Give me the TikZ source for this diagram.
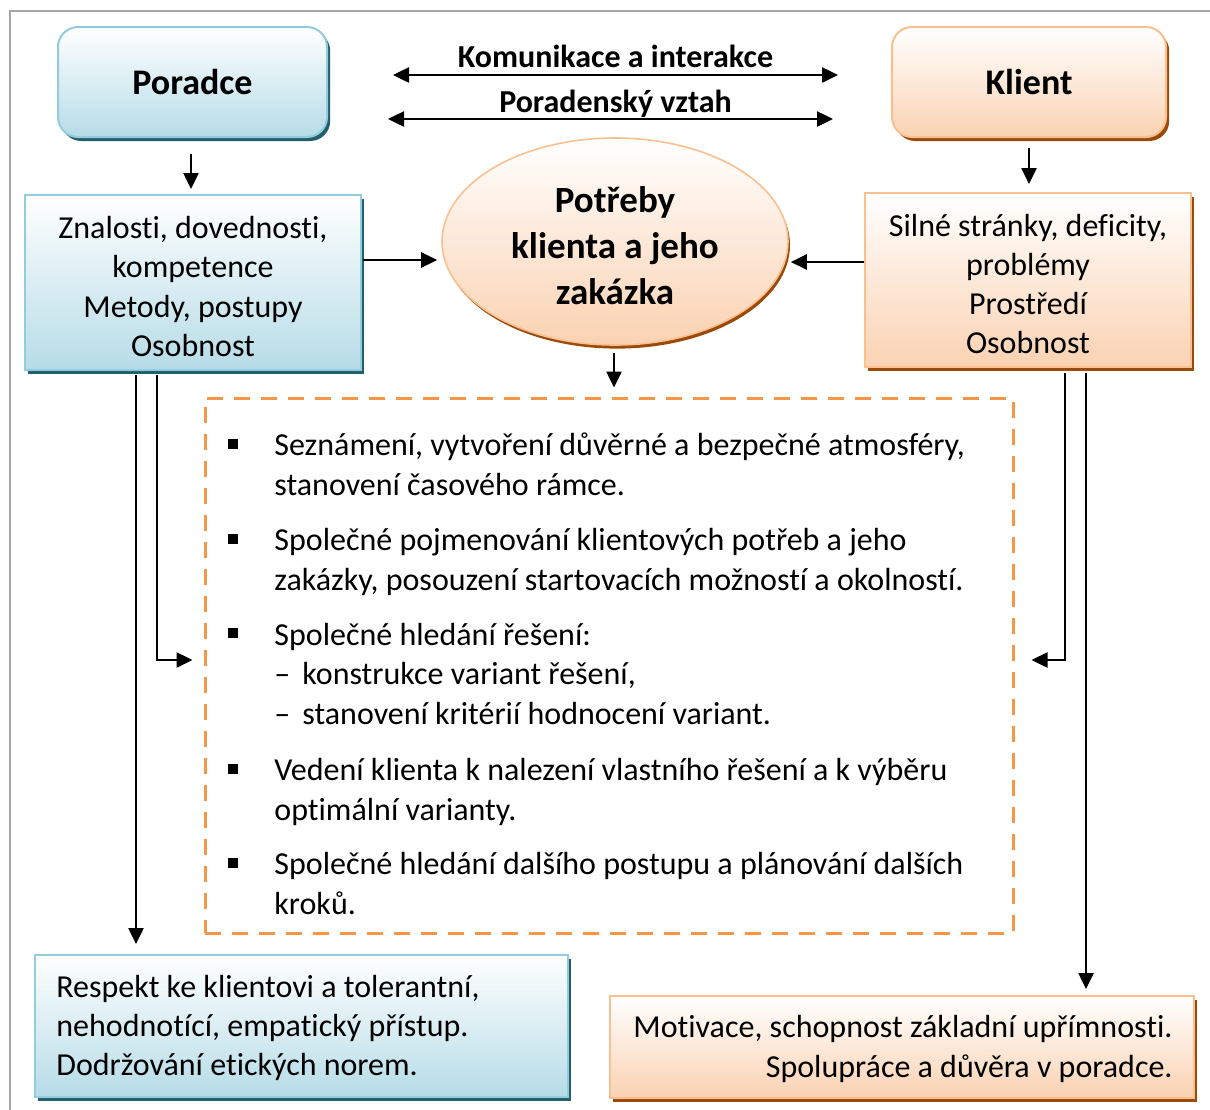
\documentclass[tikz,border=0pt]{standalone}
\usepackage{fontspec}
\setmainfont{Carlito}[Ligatures=NoCommon]
\usetikzlibrary{arrows.meta,shapes.geometric,shadows,calc}

\definecolor{blueedge}{HTML}{93CDDD}
\definecolor{bluefill}{HTML}{B6DCE7}
\definecolor{blueshadow}{HTML}{245F6E}
\definecolor{orangeedge}{HTML}{FAC090}
\definecolor{orangefill}{HTML}{FAD2B2}
\definecolor{orangeshadow}{HTML}{9A4A0A}
\definecolor{dashorange}{HTML}{F79646}
\definecolor{framegray}{HTML}{A6A6A6}

\newcommand\bodyfnt{\fontsize{16}{19.6}\selectfont}
\newcommand\titlefnt{\fontsize{18}{22}\selectfont\bfseries}
\newcommand\ellfnt{\fontsize{18.5}{23}\selectfont\bfseries}
\newcommand\labfnt{\fontsize{16}{19.6}\selectfont\bfseries}

\tikzset{
  tip/.tip={Triangle[length=8pt,width=7.5pt]},
  arr/.style={-tip, line width=1.25pt},
  darr/.style={tip-tip, line width=1.25pt},
  blueshade/.style={draw=blueedge, line width=1pt, top color=white, bottom color=bluefill,
    drop shadow={shadow xshift=1.6pt, shadow yshift=-2pt, fill=blueshadow, opacity=1}},
  orangeshade/.style={draw=orangeedge, line width=1pt, top color=white, bottom color=orangefill,
    drop shadow={shadow xshift=1.6pt, shadow yshift=-2pt, fill=orangeshadow, opacity=1}},
  titlebox/.style={rounded corners=10pt, minimum width=#1, minimum height=55pt, inner sep=0pt, font=\titlefnt},
  plainbox/.style={rectangle, inner sep=0pt},
  boxtext/.style={inner sep=0pt, font=\bodyfnt},
  bullet/.style={anchor=base west, inner sep=0pt, align=left, font=\bodyfnt},
  sq/.style={fill=black, minimum size=5pt, inner sep=0pt},
}

\begin{document}
\begin{tikzpicture}[x=0.5pt,y=-0.5pt]
\useasboundingbox (0,0) rectangle (1210,1109);
\fill[white] (0,0) rectangle (1210,1109);

% outer frame
\draw[framegray, line width=1pt] (10,1130) -- (10,11) -- (1230,11);

% top row
\node[blueshade, titlebox=134.5pt] (por) at (192.5,82) {Poradce};
\node[orangeshade, titlebox=137pt] (kli) at (1029,82) {Klient};

% relation arrows with their labels
\coordinate (k1) at (393,75);  \coordinate (k2) at (838,75);
\coordinate (v1) at (388,119); \coordinate (v2) at (833,119);
\draw[darr] (k1) -- (k2);
\draw[darr] (v1) -- (v2);
\node[font=\labfnt, inner sep=0pt] (kom) at (615.5,56) {Komunikace a interakce};
\node[font=\labfnt, inner sep=0pt] (vzt) at (615.5,103.5) {Poradenský vztah};

% second row
\node[blueshade, plainbox, minimum width=168pt, minimum height=87.5pt] (zn) at (193,282.5) {};
\node[boxtext, align=center] (zntxt) at ($(zn.center)+(0,4)$)
  {Znalosti, dovednosti,\\kompetence\\Metody, postupy\\Osobnost};
\node[orangeshade, plainbox, minimum width=163pt, minimum height=87pt] (sil) at (1028,280) {};
\node[boxtext, align=center] (siltxt) at ($(sil.center)+(0,4)$)
  {Silné stránky, deficity,\\problémy\\Prostředí\\Osobnost};
\node[ellipse, draw=orangeedge, line width=0.8pt, top color=white, bottom color=orangefill,
  drop shadow={shadow xshift=1pt, shadow yshift=-1.8pt, fill=orangeshadow, opacity=1},
  minimum width=173pt, minimum height=103.5pt, inner sep=0pt] (ell) at (615,241.5) {};
\node[inner sep=0pt, align=center, font=\ellfnt] (elltxt) at ($(ell.center)+(0,4)$)
  {Potřeby\\klienta a jeho\\zakázka};

% process box
\node[draw=dashorange, line width=1.5pt, dash pattern=on 8pt off 5.5pt, minimum width=404pt,
  minimum height=267.5pt, inner sep=0pt] (proc) at (609,665.5) {};

% bullets (the base anchor sits on the last line of each item)
\node[sq] (s1) at (233,444) {};
\node[bullet] (b1) at (274,495) {Seznámení, vytvoření důvěrné a bezpečné atmosféry,\\stanovení časového rámce.};
\node[sq] (s2) at (233,539) {};
\node[bullet] (b2) at (274,590) {Společné pojmenování klientových potřeb a jeho\\zakázky, posouzení startovacích možností a okolností.};
\node[sq] (s3) at (233,633) {};
\node[bullet] (b3) at (274,724) {Společné hledání řešení:\\\makebox[14pt][l]{–}konstrukce variant řešení,\\\makebox[14pt][l]{–}stanovení kritérií hodnocení variant.};
\node[sq] (s4) at (233,769) {};
\node[bullet] (b4) at (274,820) {Vedení klienta k nalezení vlastního řešení a k výběru\\optimální varianty.};
\node[sq] (s5) at (233,863) {};
\node[bullet] (b5) at (274,914) {Společné hledání dalšího postupu a plánování dalších\\kroků.};

% bottom row
\node[blueshade, plainbox, minimum width=266.5pt, minimum height=71pt] (resp) at (301.5,1026) {};
\node[boxtext, align=left, anchor=west] (resptxt) at ($(resp.west)+(22,2)$)
  {Respekt ke klientovi a tolerantní,\\nehodnotící, empatický přístup.\\Dodržování etických norem.};
\node[orangeshade, plainbox, minimum width=292pt, minimum height=51pt] (mot) at (902,1047) {};
\node[boxtext, align=right, anchor=east] (mottxt) at ($(mot.east)+(-22,2)$)
  {Motivace, schopnost základní upřímnosti.\\Spolupráce a důvěra v poradce.};

% connectors
\draw[arr] ($(por.south)+(-1.5,16)$) -- ($(zn.north)+(-2,-5)$);
\draw[arr] ($(kli.south)+(0,10)$) -- ($(sil.north)+(1,-8)$);
\draw[arr] ($(zn.east)+(1,-22.5)$) -- ($(ell.west)+(-4,18.5)$);
\draw[arr] ($(sil.west)+(0,-18)$) -- ($(ell.east)+(2,20.5)$);
\draw[arr] ($(ell.south)+(-1,7)$) -- ($(proc.north)+(5,-9)$);

\draw[arr] ($(zn.south)+(-57,4)$) -- ($(resp.north -| zn.south)+(-57,-10)$);
\draw[arr] ($(zn.south)+(-36,4)$) |- ($(proc.west)+(-11,-5.5)$);
\draw[arr] ($(sil.south)+(37,5)$) |- ($(proc.east)+(17,-5.5)$);
\draw[arr] ($(sil.south)+(58,5)$) -- ($(mot.north -| sil.south)+(58,-6)$);
\end{tikzpicture}
\end{document}
